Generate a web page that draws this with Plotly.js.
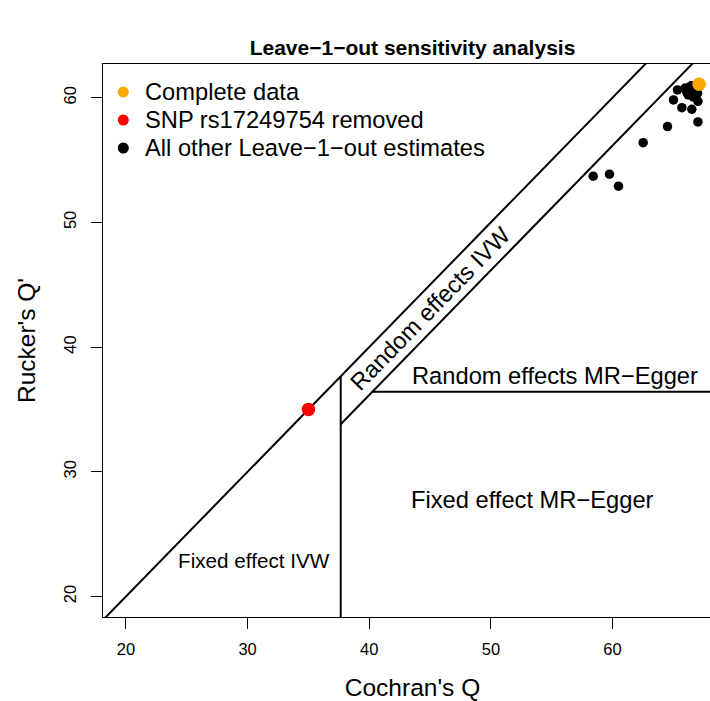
<!DOCTYPE html>
<html>
<head>
<meta charset="utf-8">
<script src="https://cdn.plot.ly/plotly-3.0.1.min.js"></script>
<style>
  html, body { margin: 0; padding: 0; overflow: hidden; background: #ffffff; }
  #chart { width: 760px; height: 701px; }
</style>
</head>
<body>
<div id="chart"></div>
<script>
// ---- Data ----
// Leave-one-out estimates: Cochran's Q (x) and Rucker's Q' (y)
var otherCochranQ = [65.34, 65.01, 65.70, 66.52, 67.02, 67.02, 64.52, 62.52, 58.41, 59.75, 60.49, 65.97, 66.38, 66.22, 66.71, 66.63, 66.99, 66.74, 66.10, 66.45];
var otherRuckerQ  = [60.62, 59.82, 59.20, 59.07, 59.71, 58.05, 57.68, 56.39, 53.70, 53.86, 52.90, 60.77, 60.86, 60.22, 60.46, 60.06, 60.36, 60.62, 60.45, 60.95];
var removedCochranQ = [35.0];
var removedRuckerQ  = [35.0];
var completeCochranQ = [67.12];
var completeRuckerQ  = [61.07];

// Decision thresholds (95% chi-square quantiles)
var qCrit      = 37.652;  // Cochran's Q, df = 25
var qPrimeCrit = 36.415;  // Rucker's Q', df = 24
var diffCrit   = 3.841;   // Q - Q', df = 1

// Legend / labels
var legendLabels = ["Complete data", "SNP rs17249754 removed", "All other Leave\u22121\u2212out estimates"];
var legendColors = ["#FFA500", "#FF0000", "#000000"];
var xTicks = [20, 30, 40, 50, 60];
var yTicks = [20, 30, 40, 50, 60];

// ---- Layout constants ----
var W = 760, H = 701;
var M = {l: 103, r: 38, t: 64, b: 84};
var xRange = [18.11, 69.0];
var yRange = [18.35, 62.70];
var FONT = "Liberation Sans, Arial, Helvetica, sans-serif";

var lo = -100, hi = 200;
var traces = [
  // Fixed effect IVW boundary: Q' = Q
  {x: [lo, hi], y: [lo, hi], mode: "lines", line: {color: "#000", width: 2}, showlegend: false, hoverinfo: "skip"},
  // Vertical: Q = qCrit, up to the diagonal
  {x: [qCrit, qCrit], y: [lo, qCrit], mode: "lines", line: {color: "#000", width: 2}, showlegend: false, hoverinfo: "skip"},
  // Lower diagonal: Q' = Q - diffCrit
  {x: [qCrit, hi], y: [qCrit - diffCrit, hi - diffCrit], mode: "lines", line: {color: "#000", width: 2}, showlegend: false, hoverinfo: "skip"},
  // Horizontal: Q' = qPrimeCrit
  {x: [qPrimeCrit + diffCrit, hi], y: [qPrimeCrit, qPrimeCrit], mode: "lines", line: {color: "#000", width: 2}, showlegend: false, hoverinfo: "skip"},
  // Points
  {x: otherCochranQ, y: otherRuckerQ, mode: "markers", marker: {color: legendColors[2], size: 9.5}, name: legendLabels[2], showlegend: false, cliponaxis: false},
  {x: removedCochranQ, y: removedRuckerQ, mode: "markers", marker: {color: legendColors[1], size: 13.5}, name: legendLabels[1], showlegend: false},
  {x: completeCochranQ, y: completeRuckerQ, mode: "markers", marker: {color: legendColors[0], size: 13.5}, name: legendLabels[0], showlegend: false, cliponaxis: false}
];

// helpers pixel -> paper
var pw = W - M.l - M.r, ph = H - M.t - M.b;
function px(x) { return (x - M.l) / pw; }
function py(y) { return (H - M.b - y) / ph; }

var annotations = [
  {x: 45.0, y: 43.05, xref: "x", yref: "y", text: "Random effects IVW", textangle: -45.7, showarrow: false, font: {family: FONT, size: 23.7, color: "#000"}, xanchor: "center", yanchor: "middle"},
  {x: 55.29, y: 37.64, xref: "x", yref: "y", text: "Random effects MR\u2212Egger", showarrow: false, font: {family: FONT, size: 23.7, color: "#000"}, xanchor: "center", yanchor: "middle"},
  {x: 53.4, y: 27.75, xref: "x", yref: "y", text: "Fixed effect MR\u2212Egger", showarrow: false, font: {family: FONT, size: 23.7, color: "#000"}, xanchor: "center", yanchor: "middle"},
  {x: 30.56, y: 22.85, xref: "x", yref: "y", text: "Fixed effect IVW", showarrow: false, font: {family: FONT, size: 20.7, color: "#000"}, xanchor: "center", yanchor: "middle"}
];
var shapes = [];
var legendY = [92, 120, 148];
for (var i = 0; i < legendLabels.length; i++) {
  annotations.push({x: px(143), y: py(legendY[i]), xref: "paper", yref: "paper", text: legendLabels[i], showarrow: false,
    font: {family: FONT, size: 23.7, color: "#000"}, xanchor: "left", yanchor: "middle"});
  shapes.push({type: "circle", xref: "paper", yref: "paper", xsizemode: "pixel", ysizemode: "pixel",
    xanchor: px(123.3), yanchor: py(legendY[i]), x0: -5.5, x1: 5.5, y0: -5.5, y1: 5.5,
    fillcolor: legendColors[i], line: {width: 0}});
}

var layout = {
  width: W, height: H,
  margin: M,
  paper_bgcolor: "#fff", plot_bgcolor: "#fff",
  showlegend: false,
  font: {family: FONT, color: "#000"},
  title: {text: "<b>Leave\u22121\u2212out sensitivity analysis</b>", font: {family: FONT, size: 21, color: "#000"},
          x: px(412.5), xanchor: "center", xref: "paper", y: 1 - 48 / H, yanchor: "middle"},
  xaxis: {
    range: xRange, tickvals: xTicks, ticktext: xTicks.map(String),
    showgrid: false, zeroline: false, showline: true, linecolor: "#000", linewidth: 1, mirror: true,
    ticks: "outside", ticklen: 11, tickcolor: "#000", tickwidth: 1, ticklabelstandoff: 6,
    tickfont: {family: FONT, size: 16.5, color: "#000"},
    title: {text: "Cochran's Q", font: {family: FONT, size: 24.5, color: "#000"}, standoff: 22}
  },
  yaxis: {
    range: yRange, tickvals: yTicks, ticktext: yTicks.map(String),
    showgrid: false, zeroline: false, showline: true, linecolor: "#000", linewidth: 1, mirror: true,
    ticks: "outside", ticklen: 11, tickcolor: "#000", tickwidth: 1, tickangle: -90, ticklabelstandoff: 8,
    tickfont: {family: FONT, size: 16.5, color: "#000"},
    title: {text: "Rucker's Q'", font: {family: FONT, size: 24.5, color: "#000"}, standoff: 18}
  },
  annotations: annotations,
  shapes: shapes
};

Plotly.newPlot("chart", traces, layout, {displayModeBar: false, staticPlot: true});
</script>
</body>
</html>
